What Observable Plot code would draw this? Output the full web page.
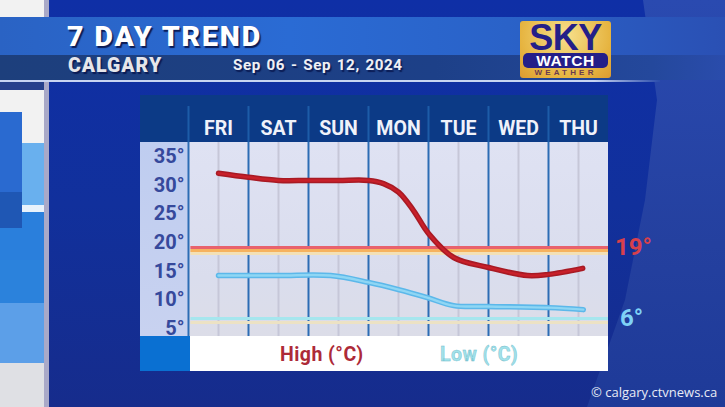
<!DOCTYPE html>
<html><head><meta charset="utf-8">
<script src="https://cdn.jsdelivr.net/npm/d3@7"></script>
<script src="https://cdn.jsdelivr.net/npm/@observablehq/plot@0.6"></script>
<style>
html,body{margin:0;padding:0;background:#12309c;overflow:hidden}
#stage{position:relative;width:725px;height:407px;overflow:hidden;font-family:Roboto,sans-serif;font-weight:700;background:linear-gradient(180deg,#0f2fa6 0%,#11309c 50%,#162c8c 100%)}
#stage div{position:absolute}
#chart{left:0;top:0;width:725px;height:407px}
#stage svg{position:absolute;left:0;top:0;overflow:visible;background:transparent;font-family:Roboto,sans-serif}
.shadow{text-shadow:1.5px 1.5px 1px #0b1c55;white-space:nowrap;line-height:1}
</style></head><body>
<div id="stage">
  <div style="left:0;top:0;width:725px;height:407px;background:linear-gradient(180deg,#2a4ab0,#24409f 60%,#1e3a98);clip-path:polygon(643px 0,725px 0,725px 407px,587px 407px,625px 300px,645px 200px,657px 100px)"></div>
  <!-- left strip -->
  <div style="left:0;top:0;width:44px;height:407px;background:#f2f2f2"></div>
  <div style="left:0;top:143px;width:44px;height:62px;background:#69b0ee"></div>
  <div style="left:0;top:205px;width:44px;height:7px;background:#e8f2fb"></div>
  <div style="left:0;top:212px;width:44px;height:48px;background:#2a7fdc"></div>
  <div style="left:0;top:260px;width:44px;height:43px;background:#2b82dc"></div>
  <div style="left:0;top:303px;width:44px;height:60px;background:#5c9fe8"></div>
  <div style="left:0;top:363px;width:44px;height:44px;background:#dfe0e4"></div>
  <div style="left:0;top:112px;width:22px;height:92px;background:#2a6ad0"></div>
  <div style="left:0;top:192px;width:22px;height:36px;background:#1f57b4"></div>
  <div style="left:44px;top:0;width:5px;height:407px;background:#a9a9c8"></div>
  <!-- banner -->
  <div style="left:0;top:17px;width:725px;height:38px;background:linear-gradient(90deg,#2a63c4 0%,#2a6bd4 40%,#2a62c8 70%,#2a50b4 100%)"></div>
  <div style="left:0;top:55px;width:725px;height:25px;background:linear-gradient(90deg,#1d3f7c 0%,#1d4088 60%,#24489c 90%,#2a4cac 100%)"></div>
  <div style="left:0;top:80px;width:660px;height:2px;background:linear-gradient(90deg,#c8d4f2,#c8d4f2 90%,#2a4cac)"></div>
  <div style="left:0;top:82px;width:44px;height:8px;background:#26408c"></div>
  <div class="shadow" style="left:67px;top:23px;font-size:28.5px;font-weight:900;color:#fff;letter-spacing:1.9px">7 DAY TREND</div>
  <div class="shadow" style="left:68px;top:56px;font-size:19.5px;font-weight:900;color:#e6e6ea;letter-spacing:1px">CALGARY</div>
  <div class="shadow" style="left:233px;top:58px;font-size:15.2px;color:#f0f0f4;word-spacing:1.5px;letter-spacing:.55px">Sep 06 - Sep 12, 2024</div>
  <!-- logo -->
  <div style="left:520px;top:21px;width:91px;height:57px;border-radius:3px;background:radial-gradient(ellipse at 50% 25%,#f6e08c,#e6b440 70%,#dc9a30)"></div>
  <div style="left:520px;top:23px;width:91px;text-align:center;font-family:'Liberation Sans',sans-serif;font-size:36px;line-height:29px;color:#241f88;letter-spacing:-.5px">SKY</div>
  <div style="left:523px;top:53px;width:85px;height:15px;border-radius:5px;background:#241f88"></div>
  <div style="left:523px;top:53px;width:85px;text-align:center;font-family:'Liberation Sans',sans-serif;font-size:15.5px;line-height:15px;color:#fff;letter-spacing:.6px">WATCH</div>
  <div style="left:523px;top:68px;width:85px;text-align:center;font-family:'Liberation Sans',sans-serif;font-size:8px;line-height:9px;color:#6a3a50;letter-spacing:3.2px">WEATHER</div>
  <!-- chart panels -->
  <div style="left:140px;top:95px;width:468px;height:47px;background:#0c3a86"></div>
  <div style="left:140px;top:142px;width:48px;height:194px;background:linear-gradient(180deg,#bfcdf0,#c8d2f0)"></div>
  <div style="left:188px;top:142px;width:420px;height:194px;background:linear-gradient(180deg,#dfe2f3,#dadded 70%,#dcdde8)"></div>
  <div style="left:140px;top:336px;width:50px;height:35px;background:#0a70d2"></div>
  <div style="left:190px;top:336px;width:418px;height:35px;background:#fff"></div>
  <div id="chart"></div>
  <div style="left:280px;top:345px;font-size:19.5px;letter-spacing:.45px;line-height:1;color:#ad2a38;white-space:nowrap">High (°C)</div>
  <div style="left:440px;top:345px;font-size:19.5px;letter-spacing:.45px;line-height:1;color:#a2e2ea;white-space:nowrap;-webkit-text-stroke:.4px #6fbccb">Low (°C)</div>
  <div style="left:591px;top:386px;font-size:13px;line-height:1;font-weight:400;font-family:'Open Sans',sans-serif;color:#e8ecf6;white-space:nowrap">© calgary.ctvnews.ca</div>
</div>
<script>
const days = ["FRI","SAT","SUN","MON","TUE","WED","THU"];
const tempTicks = [5,10,15,20,25,30,35];
const highDay  = [0,0.5,1,1.5,2,2.5,2.75,3,3.25,3.5,3.92,4.5,5.15,5.5,6.07];
const highTemp = [31.9,31.2,30.65,30.65,30.65,30.65,30.1,28.6,25.4,21.4,17.2,15.45,14.05,14.25,15.3];
const lowDay   = [0,1,1.87,2.5,3,3.48,3.92,4.48,5.5,6.08];
const lowTemp  = [14.05,14.05,14.05,12.85,11.6,10.2,8.8,8.65,8.45,8.1];
const normalHigh = 19;
const normalLow = 6;
const majorGrid = [-0.5,0.5,1.5,2.5,3.5,4.5,5.5];
const minorGrid = [0,1,2,3,4,5,6];

const high = highDay.map((d,i)=>({d,t:highTemp[i]}));
const low = lowDay.map((d,i)=>({d,t:lowTemp[i]}));
const yTop = 37.27, yBottom = 3.41, yHeader = 43.55;
const curve = "catmull-rom";

const chart = Plot.plot({
  width:725, height:407,
  marginLeft:188, marginRight:117, marginTop:142, marginBottom:71,
  x:{domain:[-0.5,6.5]},
  y:{domain:[yBottom,yTop]},
  style:{background:"transparent"},
  marks:[
    Plot.ruleX(minorGrid,{x:d=>d,y1:yBottom,y2:yTop,stroke:"#c6c7d8",strokeWidth:2}),
    Plot.ruleX(majorGrid,{x:d=>d,y1:yBottom,y2:yTop,stroke:"#2c6cb4",strokeWidth:2}),
    Plot.ruleX(majorGrid,{x:d=>d,y1:yTop,y2:yHeader,stroke:"#1d5ca8",strokeWidth:2}),
    Plot.ruleY([normalHigh-0.06],{x1:-0.46,x2:6.5,stroke:"#e8626c",strokeWidth:3}),
    Plot.ruleY([normalHigh-0.58],{x1:-0.46,x2:6.5,stroke:"#f6b25e",strokeWidth:3}),
    Plot.ruleY([normalHigh-1.1],{x1:-0.46,x2:6.5,stroke:"#f3e0b6",strokeWidth:3}),
    Plot.ruleY([normalLow+0.55],{x1:-0.46,x2:6.5,stroke:"#a6e6ee",strokeWidth:3}),
    Plot.ruleY([normalLow-0.15],{x1:-0.46,x2:6.5,stroke:"#ece2c4",strokeWidth:3}),
    Plot.line(low,{x:"d",y:"t",curve,stroke:"#5cb8ea",strokeWidth:5.5}),
    Plot.line(low,{x:"d",y:"t",curve,stroke:"#8fd6f4",strokeWidth:2.4}),
    Plot.line(high,{x:"d",y:"t",curve,stroke:"#a81a24",strokeWidth:5.5}),
    Plot.line(high,{x:"d",y:"t",curve,stroke:"#c8202a",strokeWidth:2.4}),
    Plot.axisX(days.map((_,i)=>i),{anchor:"top",tickSize:0,tickPadding:8,label:null,
      tickFormat:i=>days[i],fontSize:19.5,fontWeight:700,fill:"#f0f2fa"}),
    Plot.axisY(tempTicks,{anchor:"left",tickSize:0,tickPadding:3,dx:-1,dy:1,label:null,
      tickFormat:d=>d+"°",fontSize:20,fontWeight:700,fill:"#36499c"}),
    Plot.text([normalHigh],{x:6.64,y:d=>d,text:d=>d+"°",textAnchor:"start",dx:-2,fontSize:24,fontWeight:700,fill:"#d8404c"}),
    Plot.text([normalLow],{x:6.64,y:d=>d+0.55,text:d=>d+"°",textAnchor:"start",dx:3,fontSize:24,fontWeight:700,fill:"#7fd2f6"})
  ]
});
document.getElementById("chart").appendChild(chart);
</script>
</body></html>
